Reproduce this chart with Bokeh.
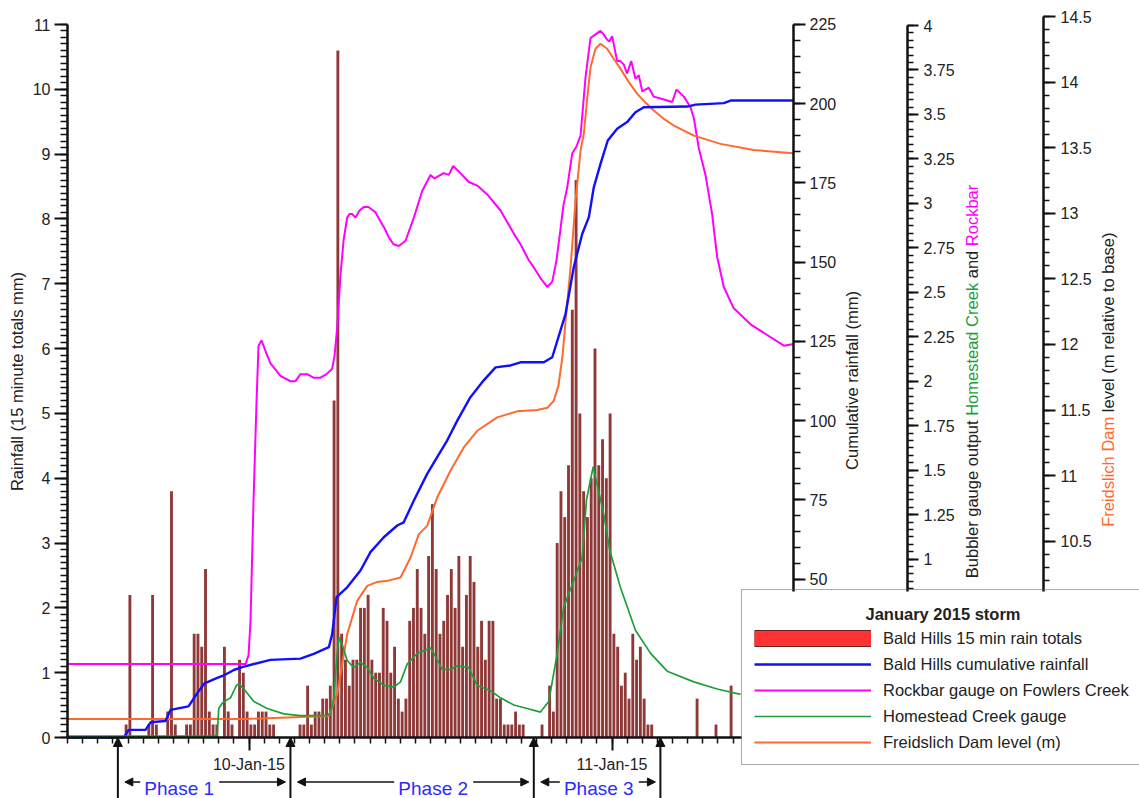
import numpy as np
from bokeh.plotting import figure
from bokeh.models import (Range1d, LinearAxis, FixedTicker, Legend, LegendItem, Label,
                          Arrow, NormalHead, CustomJSTickFormatter)
from bokeh.core.properties import value
from bokeh.embed import file_html
from bokeh.resources import INLINE

# ---------------- data ----------------
# time axis: hours after 9-Jan-2015 12:00
x_start_h, x_end_h = 0, 48
date_tick_h = [12, 36]
date_tick_labels = ["10-Jan-15", "11-Jan-15"]
hour_ticks_h = list(range(0, 45))          # hourly ticks visible left of the legend

# Bald Hills 15-minute rain totals (mm): index of 15-min interval, value
rain_slot = [15, 16, 21, 22, 23, 26, 27, 28, 31, 32, 33, 34, 35, 36, 37, 38, 39, 41, 42, 43,
             45, 46, 47, 48, 49, 50, 51, 52, 53, 54,
             61, 62, 63, 64, 65, 66, 67, 68, 69, 70, 71, 72, 73, 74, 75, 76, 77, 78, 79, 80,
             81, 82, 83, 84, 85, 86, 87, 88, 89, 90, 91, 92, 93, 94, 95, 96, 97, 98, 99, 100,
             101, 102, 103, 104, 105, 106, 107, 108, 109, 110, 111, 112, 113, 114, 115, 116,
             117, 118, 119, 120,
             125, 127, 128, 129, 130, 131, 132, 133, 134, 135, 136, 137, 138, 139, 140, 141,
             142, 143, 144, 145, 146, 147, 148, 149, 150, 151, 152, 153, 154,
             166, 171, 175]
rain_mm = [0.2, 2.2, 0.2, 2.2, 0.2, 0.4, 3.8, 0.2, 0.2, 0.2, 1.6, 1.6, 1.4, 2.6, 0.4, 0.2, 0.2, 1.4, 0.4, 0.2,
           1.2, 1.0, 0.4, 0.2, 0.2, 0.4, 0.4, 0.4, 0.2, 0.2,
           0.2, 0.2, 0.8, 0.2, 0.4, 0.4, 0.6, 0.6, 0.8, 5.2, 10.6, 1.6, 1.2, 0.8, 1.2, 1.2, 2.0, 2.0, 2.2, 1.2,
           1.0, 1.0, 2.0, 1.8, 1.0, 1.4, 0.6, 0.4, 0.6, 1.8, 2.0, 2.6, 2.0, 1.6, 2.8, 3.6, 2.6, 1.6, 1.8, 2.2,
           2.6, 2.0, 2.8, 1.4, 2.2, 2.8, 2.4, 1.4, 1.8, 1.2, 1.8, 1.8, 0.6, 0.6, 0.2, 0.2,
           0.2, 0.4, 0.2, 0.2,
           0.2, 0.8, 0.4, 3.0, 3.8, 3.4, 4.2, 6.6, 8.6, 5.0, 3.8, 3.4, 4.0, 6.0, 4.2, 4.6,
           4.0, 5.0, 1.6, 1.4, 0.8, 1.0, 0.6, 1.6, 1.2, 1.4, 0.6, 0.2, 0.2,
           0.6, 0.2, 0.8]

# Bald Hills cumulative rainfall (mm)
cumulative_pts = [(0, 0), (3.72, 0), (4.05, 2.4), (5.16, 2.4), (5.49, 4.8), (6.48, 5.2), (6.81, 8.7),
                  (8.0, 9.8), (8.58, 14), (9.06, 17.1), (9.9, 18.8), (10.29, 19.5), (11.0, 21.3),
                  (11.55, 22.2), (12.32, 23.2), (13.42, 24.5), (15.4, 24.9), (16.28, 26.4), (17.28, 28.5),
                  (17.5, 32.7), (17.79, 44.3), (18.49, 47.4), (19.37, 52.7), (20.03, 58.5), (20.91, 63.2),
                  (21.8, 66.9), (22.23, 67.9), (22.9, 74.8), (23.78, 83.2), (24.44, 88.5), (25.1, 93.7),
                  (25.77, 100.0), (26.64, 107.4), (27.52, 112.7), (28.3, 116.8), (29.29, 117.4),
                  (29.95, 118.4), (31.49, 118.4), (32.05, 120), (32.93, 133.7), (33.47, 148.4),
                  (34.03, 158.9), (34.47, 164.2), (34.8, 173.7), (35.24, 181), (35.72, 188.4),
                  (36.34, 192.1), (37.0, 194.2), (37.55, 197.3), (38.1, 198.9), (40.97, 199.1),
                  (41.52, 199.7), (43.39, 200.2), (43.84, 201), (48.0, 201)]

# Rockbar gauge on Fowlers Creek (bubbler output)
rockbar_pts = [(0, 0.41), (11.77, 0.41), (11.97, 0.46), (12.1, 0.65), (12.3, 1.33), (12.5, 1.89), (12.63, 2.2),
               (12.83, 2.23), (13.09, 2.17), (13.42, 2.10), (14.08, 2.03), (14.74, 2.0), (15.07, 2.0),
               (15.4, 2.04), (15.85, 2.04), (16.26, 2.02), (16.73, 2.02), (17.12, 2.04), (17.5, 2.07),
               (17.65, 2.14), (17.83, 2.30), (18.05, 2.60), (18.25, 2.79), (18.49, 2.92), (18.64, 2.94),
               (18.82, 2.94), (19.04, 2.92), (19.31, 2.96), (19.59, 2.98), (19.9, 2.98), (20.36, 2.95),
               (20.69, 2.90), (20.96, 2.86), (21.24, 2.81), (21.55, 2.77), (21.9, 2.76), (22.35, 2.79),
               (22.9, 2.92), (23.45, 3.07), (24.0, 3.16), (24.26, 3.14), (24.88, 3.17), (25.21, 3.16),
               (25.5, 3.21), (25.98, 3.17), (26.53, 3.12), (27.09, 3.10), (27.75, 3.05), (28.63, 2.96),
               (29.51, 2.83), (29.95, 2.77), (30.5, 2.68), (30.83, 2.64), (31.27, 2.58), (31.72, 2.53),
               (32.05, 2.56), (32.33, 2.68), (32.6, 2.86), (32.79, 2.99), (33.04, 3.09), (33.37, 3.28),
               (33.65, 3.32), (33.92, 3.38), (34.25, 3.71), (34.58, 3.93), (34.91, 3.95), (35.24, 3.97),
               (35.44, 3.95), (35.68, 3.92), (35.83, 3.91), (36.01, 3.94), (36.34, 3.80), (36.56, 3.80),
               (36.78, 3.78), (37.0, 3.73), (37.27, 3.80), (37.55, 3.70), (37.77, 3.72), (38.0, 3.63),
               (38.21, 3.64), (38.43, 3.65), (38.76, 3.60), (39.21, 3.59), (39.6, 3.58), (39.98, 3.57),
               (40.26, 3.64), (40.75, 3.60), (41.19, 3.54), (41.41, 3.48), (41.74, 3.31), (42.18, 3.16),
               (42.62, 2.94), (42.95, 2.70), (43.39, 2.53), (44.05, 2.41), (45.16, 2.32), (46.26, 2.26),
               (47.36, 2.20), (48.0, 2.21)]

# Homestead Creek gauge (bubbler output) - visible part only (legend hides the rest)
homestead_pts = [(0, 0.005), (9.79, 0.005), (9.9, 0.02), (10.0, 0.16), (10.23, 0.19), (10.56, 0.21),
                 (10.78, 0.22), (11.0, 0.26), (11.17, 0.29), (11.33, 0.30), (11.66, 0.27), (12.32, 0.20),
                 (13.2, 0.16), (14.3, 0.13), (15.4, 0.12), (17.17, 0.12), (17.39, 0.135), (17.61, 0.22),
                 (17.79, 0.43), (17.94, 0.56), (18.16, 0.52), (18.49, 0.43), (18.93, 0.39), (19.37, 0.42),
                 (19.82, 0.39), (20.25, 0.33), (20.91, 0.29), (21.57, 0.28), (22.02, 0.31), (22.46, 0.41),
                 (23.12, 0.47), (24.0, 0.50), (24.22, 0.47), (24.77, 0.38), (25.32, 0.38), (25.77, 0.40),
                 (26.53, 0.39), (27.09, 0.29), (27.97, 0.26), (28.63, 0.22), (29.51, 0.18), (30.39, 0.16),
                 (31.27, 0.14), (31.82, 0.20), (32.38, 0.47), (32.81, 0.73), (33.47, 0.88), (34.03, 1.01),
                 (34.31, 1.33), (34.47, 1.40), (34.76, 1.52), (35.02, 1.42), (35.46, 1.25), (35.85, 1.05),
                 (36.56, 0.84), (37.55, 0.60), (38.55, 0.47), (39.65, 0.37), (41.41, 0.31), (42.95, 0.27),
                 (44.5, 0.24)]

# Freidslich Dam level (m relative to base)
dam_pts = [(0, 9.145), (11.77, 9.145), (17.28, 9.168), (17.61, 9.27), (17.83, 9.33), (18.05, 9.486),
           (18.49, 9.79), (19.15, 10.045), (19.82, 10.16), (20.48, 10.19), (21.15, 10.198), (22.02, 10.223),
           (22.68, 10.376), (23.23, 10.554), (23.78, 10.617), (24.44, 10.833), (25.32, 11.037),
           (26.2, 11.215), (27.09, 11.342), (28.41, 11.444), (29.73, 11.49), (31.05, 11.5), (31.74, 11.518),
           (32.15, 11.571), (32.46, 11.686), (32.73, 11.914), (32.99, 12.257), (33.26, 12.588),
           (33.59, 13.096), (33.92, 13.478), (34.14, 13.608), (34.38, 13.897), (34.58, 14.113),
           (34.91, 14.254), (35.24, 14.292), (35.68, 14.254), (36.1, 14.18), (36.56, 14.101),
           (37.09, 14.004), (37.67, 13.91), (38.21, 13.844), (38.76, 13.783), (39.4, 13.722),
           (40.09, 13.669), (41.41, 13.592), (43.17, 13.529), (45.37, 13.483), (47.98, 13.457)]

# storm phases (boundaries in hours)
phase_bounds_h = [3.33, 14.74, 30.83, 39.2]
phase_names = ["Phase 1", "Phase 2", "Phase 3"]

# axis tick values (right axes: only the part above the legend is visible)
left_ticks = list(range(0, 12))
left_minor = [k / 10 for k in range(0, 111)]
cum_ticks = list(range(50, 226, 25))
cum_minor = list(range(50, 226, 5))
bub_ticks = [k * 0.25 for k in range(4, 17)]
bub_minor = [k / 24 for k in range(20, 97)]
dam_ticks = [10.5 + k * 0.5 for k in range(0, 9)]
dam_minor = [10.2 + k / 10 for k in range(0, 44)]

# ---------------- layout helpers (canvas pixel -> data) ----------------
W, H = 1139, 798
PX_PER_H = 15.125      # x: 0 h at px 67
PX_PER_MM = 64.818     # left axis: 0 at px 737
LEG_L, LEG_T, LEG_B = 741, 591, 765   # legend box edges (px)


def X(px):
    return (px - 67.0) / PX_PER_H


def Y(px):
    return (737.0 - px) / PX_PER_MM


FONT = "Liberation Sans"
TXT = "#222222"
AX = "#111111"
BLUE = "#1010FF"
MAGENTA = "#FF00FF"
GREEN = "#1E9E3A"
ORANGE = "#FF6A30"
PHASE_BLUE = "#2B2BFF"

p = figure(width=W, height=H,
           x_range=Range1d(X(0), X(W)), y_range=Range1d(Y(H), Y(0)),
           output_backend="svg", toolbar_location=None,
           min_border_left=0, min_border_right=0, min_border_top=0, min_border_bottom=0,
           background_fill_color="white", border_fill_color="white")
p.outline_line_color = None
p.grid.visible = False

CUM_PX, BUB_PX, DAM_PX = 3.16889, 177.875, 131.18
p.extra_y_ranges = {
    "cum": Range1d(-(H - 737) / CUM_PX, 737 / CUM_PX),
    "bub": Range1d(-(H - 736.5) / BUB_PX, 736.5 / BUB_PX),
    "dam": Range1d(9 - (H - 737.5) / DAM_PX, 9 + 737.5 / DAM_PX),
}


def style(ax, tick_out=12, minor_out=7, standoff=5):
    ax.axis_line_color = AX
    ax.axis_line_width = 2.5
    ax.major_tick_line_color = AX
    ax.major_tick_line_width = 2
    ax.minor_tick_line_color = AX
    ax.minor_tick_line_width = 1.5
    ax.major_tick_in = 0
    ax.major_tick_out = tick_out
    ax.minor_tick_in = 0
    ax.minor_tick_out = minor_out
    ax.major_label_text_font = FONT
    ax.major_label_text_font_size = "16px"
    ax.major_label_text_color = TXT
    ax.major_label_standoff = standoff


fmt = CustomJSTickFormatter(code="return String(tick);")

# left rainfall axis
ax_l = p.left[0]
ax_l.ticker = FixedTicker(ticks=left_ticks, minor_ticks=left_minor)
ax_l.bounds = (0, 11)
ax_l.fixed_location = x_start_h
ax_l.formatter = fmt
style(ax_l, 13, 7, 4)

# bottom time axis (right end hidden behind the legend in the original)
ax_x = p.below[0]
ax_x.ticker = FixedTicker(ticks=date_tick_h, minor_ticks=hour_ticks_h)
ax_x.bounds = (x_start_h, X(LEG_L))
ax_x.fixed_location = 0
ax_x.formatter = CustomJSTickFormatter(
    args=dict(day_pos=date_tick_h, day_txt=date_tick_labels),
    code="const i = day_pos.indexOf(tick); return i >= 0 ? day_txt[i] : '';")
style(ax_x, 13, 6, 5)

# right axes (their lower parts are hidden behind the legend)
ax_c = LinearAxis(y_range_name="cum", bounds=((737 - LEG_T) / CUM_PX, 225), fixed_location=X(793),
                  ticker=FixedTicker(ticks=cum_ticks, minor_ticks=cum_minor), formatter=fmt)
style(ax_c, 12, 7, 4)
p.add_layout(ax_c, "right")

ax_b = LinearAxis(y_range_name="bub", bounds=((736.5 - LEG_T) / BUB_PX, 4), fixed_location=X(907),
                  ticker=FixedTicker(ticks=bub_ticks, minor_ticks=bub_minor), formatter=fmt)
style(ax_b, 11, 6, 5)
p.add_layout(ax_b, "right")

ax_d = LinearAxis(y_range_name="dam", bounds=(9 + (737.5 - LEG_T) / DAM_PX, 14.5), fixed_location=X(1043),
                  ticker=FixedTicker(ticks=dam_ticks, minor_ticks=dam_minor), formatter=fmt)
style(ax_d, 12, 6, 5)
p.add_layout(ax_d, "right")

# ---------------- glyphs ----------------
bar_x = [s * 0.25 + 0.125 for s in rain_slot]
p.vbar(x=bar_x, top=rain_mm, bottom=0, width=0.19, fill_color="#8E3838", line_color=None)

rb_h, rb_v = zip(*rockbar_pts)
r_rock = p.line(list(rb_h), list(rb_v), y_range_name="bub", line_color=MAGENTA, line_width=2)
dm_h, dm_v = zip(*dam_pts)
r_dam = p.line(list(dm_h), list(dm_v), y_range_name="dam", line_color=ORANGE, line_width=2)
cu_h, cu_v = zip(*cumulative_pts)
r_cum = p.line(list(cu_h), list(cu_v), y_range_name="cum", line_color=BLUE, line_width=2.4)
hs_h, hs_v = zip(*homestead_pts)
r_home = p.line(list(hs_h), list(hs_v), y_range_name="bub", line_color=GREEN, line_width=1.7)

# legend swatch for rain bars: single-point line proxies (draw nothing in the plot)
r_bar_edge = p.line(x=bar_x[:1], y=rain_mm[:1], line_color="#6A2222", line_width=17)
r_bar_fill = p.line(x=bar_x[:1], y=rain_mm[:1], line_color="#FF3333", line_width=15)

# ---------------- phase annotations ----------------
for b in phase_bounds_h:
    p.add_layout(Arrow(x_start=b, y_start=Y(H + 5), x_end=b, y_end=0, line_color=AX, line_width=2,
                       start=None, end=NormalHead(size=9, fill_color=AX, line_color=AX, line_width=1)))

phase_text_px = [178.7, 432.7, 598.3]
phase_text_w = 70
arrow_y = Y(781.5)
for i in range(3):
    left_tip = phase_bounds_h[i] + 7 / PX_PER_H
    right_tip = phase_bounds_h[i + 1] - 5 / PX_PER_H
    tl = X(phase_text_px[i] - phase_text_w / 2 - 4)
    tr = X(phase_text_px[i] + phase_text_w / 2 + 5)
    p.add_layout(Arrow(x_start=left_tip, y_start=arrow_y, x_end=tl, y_end=arrow_y, line_color=AX,
                       line_width=1.5, end=None,
                       start=NormalHead(size=8, fill_color=AX, line_color=AX, line_width=1)))
    p.add_layout(Arrow(x_start=tr, y_start=arrow_y, x_end=right_tip, y_end=arrow_y, line_color=AX,
                       line_width=1.5, start=None,
                       end=NormalHead(size=8, fill_color=AX, line_color=AX, line_width=1)))
p.text(x=[X(v) for v in phase_text_px], y=[Y(787.5)] * 3, text=phase_names,
       text_font=value(FONT), text_font_size="19px", text_color=PHASE_BLUE,
       text_align="center", text_baseline="alphabetic")

# ---------------- axis titles ----------------
FS = 16.5
EM = FS / 1000.0


def vlabel(xpx, ypx, text, color=TXT, align="left"):
    p.add_layout(Label(x=X(xpx), y=Y(ypx), text=text, angle=np.pi / 2, text_align=align,
                       text_baseline="middle", text_font=FONT, text_font_size=f"{FS}px",
                       text_color=color))


vlabel(16.7, 381, "Rainfall (15 minute totals mm)", align="center")
vlabel(851, 380, "Cumulative rainfall (mm)", align="center")

# multi-coloured bubbler title (Arial-metric advance widths, units per 1000 em)
b0 = 577.7
vlabel(971, b0, "Bubbler gauge output")
vlabel(971, b0 - 9840 * EM, "Homestead Creek", color=GREEN)
vlabel(971, b0 - 18176 * EM, "and")
vlabel(971, b0 - 20122 * EM, "Rockbar", color=MAGENTA)

d0 = 526.3
vlabel(1107, d0, "Freidslich Dam", color=ORANGE)
vlabel(1107, d0 - 6945 * EM, "level (m relative to base)")

# legend title (centred, drawn as a label; legend itself is transparent)
p.add_layout(Label(x=X(942.5), y=Y(613), text="January 2015 storm", text_align="center",
                   text_baseline="middle", text_font=FONT, text_font_style="bold",
                   text_font_size=f"{FS}px", text_color=TXT))

# ---------------- legend ----------------
legend = Legend(items=[
    LegendItem(label="Bald Hills 15 min rain totals", renderers=[r_bar_edge, r_bar_fill]),
    LegendItem(label="Bald Hills cumulative rainfall", renderers=[r_cum]),
    LegendItem(label="Rockbar gauge on Fowlers Creek", renderers=[r_rock]),
    LegendItem(label="Homestead Creek gauge", renderers=[r_home]),
    LegendItem(label="Freidslich Dam level (m)", renderers=[r_dam]),
], location=(LEG_L, H - LEG_B), orientation="vertical", glyph_width=117, glyph_height=20,
    label_height=20, label_standoff=12, spacing=6, padding=12, margin=0,
    title=" ", title_text_font=FONT, title_text_font_style="bold",
    title_text_font_size=f"{FS}px", title_text_color=TXT, title_standoff=7,
    label_text_font=FONT, label_text_font_size=f"{FS}px", label_text_color=TXT,
    border_line_color="#555555", border_line_width=1.5,
    background_fill_color="white", background_fill_alpha=0.0)
p.add_layout(legend)

open("out.html", "w").write(file_html(p, INLINE))
